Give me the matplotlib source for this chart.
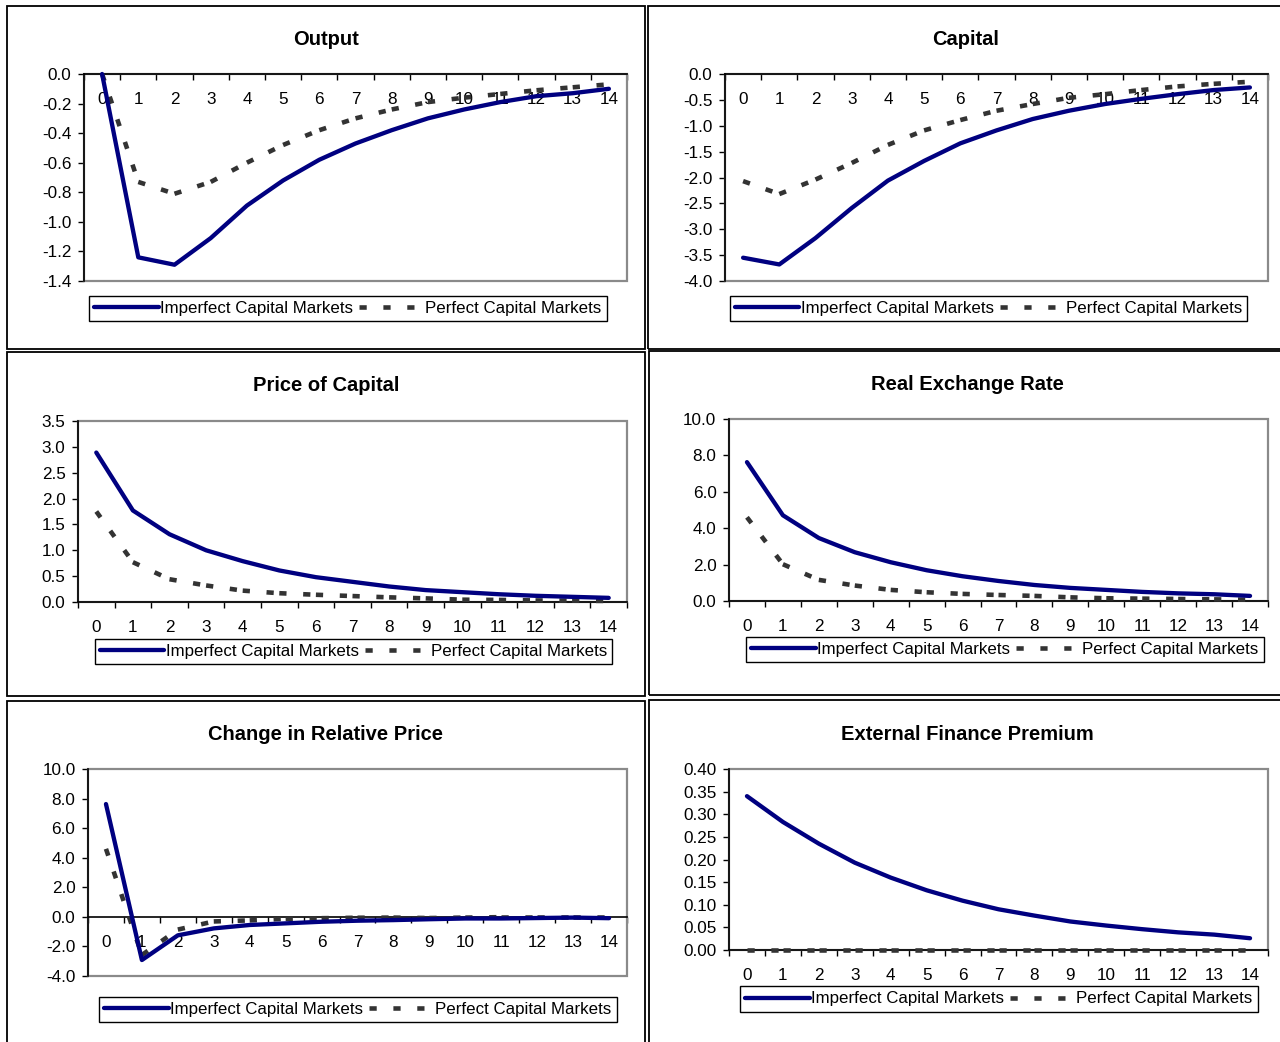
import matplotlib
matplotlib.use("Agg")
import matplotlib.pyplot as plt
from matplotlib.patches import Rectangle
from matplotlib.lines import Line2D
import numpy as np

plt.rcParams['font.family'] = ['Liberation Sans', 'DejaVu Sans']
plt.rcParams['lines.scale_dashes'] = False

# ---------------------------------------------------------------- data
periods = list(range(15))
period_labels = [str(p) for p in periods]
series_names = ["Imperfect Capital Markets", "Perfect Capital Markets"]

output_imperfect = [0.00, -1.24, -1.29, -1.11, -0.89, -0.72, -0.58, -0.47,
                    -0.38, -0.30, -0.24, -0.19, -0.15, -0.13, -0.10]
output_perfect = [0.00, -0.73, -0.81, -0.73, -0.60, -0.48, -0.38, -0.30,
                  -0.24, -0.19, -0.16, -0.135, -0.11, -0.09, -0.07]

capital_imperfect = [-3.55, -3.68, -3.17, -2.59, -2.06, -1.68, -1.34, -1.09,
                     -0.87, -0.71, -0.58, -0.48, -0.39, -0.31, -0.26]
capital_perfect = [-2.07, -2.32, -2.04, -1.72, -1.37, -1.09, -0.89, -0.71,
                   -0.58, -0.46, -0.39, -0.31, -0.24, -0.19, -0.15]

price_imperfect = [2.89, 1.77, 1.31, 1.00, 0.79, 0.61, 0.48, 0.39,
                   0.30, 0.23, 0.19, 0.15, 0.12, 0.10, 0.08]
price_perfect = [1.75, 0.77, 0.44, 0.32, 0.22, 0.17, 0.14, 0.115,
                 0.09, 0.07, 0.045, 0.04, 0.03, 0.025, 0.02]

rer_imperfect = [7.63, 4.71, 3.46, 2.68, 2.13, 1.69, 1.36, 1.10,
                 0.88, 0.72, 0.61, 0.50, 0.42, 0.37, 0.28]
rer_perfect = [4.60, 2.02, 1.16, 0.85, 0.61, 0.48, 0.39, 0.33,
               0.28, 0.20, 0.15, 0.13, 0.11, 0.09, 0.07]

relprice_imperfect = [7.63, -2.92, -1.25, -0.78, -0.55, -0.44, -0.33, -0.26,
                      -0.22, -0.16, -0.11, -0.11, -0.08, -0.05, -0.09]
relprice_perfect = [4.60, -2.58, -0.86, -0.31, -0.24, -0.13, -0.09, -0.06,
                    -0.05, -0.08, -0.05, -0.02, -0.02, -0.02, -0.02]

efp_imperfect = [0.340, 0.283, 0.235, 0.193, 0.160, 0.132, 0.109, 0.090,
                 0.076, 0.063, 0.054, 0.046, 0.039, 0.034, 0.026]
efp_perfect = [0.0] * 15

output_ticks = [-1.4, -1.2, -1.0, -0.8, -0.6, -0.4, -0.2, 0.0]
capital_ticks = [-4.0, -3.5, -3.0, -2.5, -2.0, -1.5, -1.0, -0.5, 0.0]
price_ticks = [0.0, 0.5, 1.0, 1.5, 2.0, 2.5, 3.0, 3.5]
rer_ticks = [0.0, 2.0, 4.0, 6.0, 8.0, 10.0]
relprice_ticks = [-4.0, -2.0, 0.0, 2.0, 4.0, 6.0, 8.0, 10.0]
efp_ticks = [0.00, 0.05, 0.10, 0.15, 0.20, 0.25, 0.30, 0.35, 0.40]

# ---------------------------------------------------------------- layout
W, H = 1280, 1042
NAVY = "#000080"
DARK = "#333333"
FRAME_GRAY = "#8a8a8a"
DASH = (0, (5.2, 12.0))
TICK_FS = 12.3
LEG_FS = 12.2

panels = [
    dict(title="Output", imp=output_imperfect, per=output_perfect,
         ticks=output_ticks, dec=1,
         box=(7, 6, 645, 349), ax=(84, 74, 627, 281),
         title_xy=(326, 39.5), leg_xy=(348, 308.5)),
    dict(title="Capital", imp=capital_imperfect, per=capital_perfect,
         ticks=capital_ticks, dec=1,
         box=(648, 6, 1300, 349), ax=(725, 74, 1268, 281),
         title_xy=(966, 39.5), leg_xy=(988.5, 308.5)),
    dict(title="Price of Capital", imp=price_imperfect, per=price_perfect,
         ticks=price_ticks, dec=1,
         box=(7, 352, 645, 696), ax=(78, 421, 627, 602),
         title_xy=(326, 385.5), leg_xy=(353.5, 651.5)),
    dict(title="Real Exchange Rate", imp=rer_imperfect, per=rer_perfect,
         ticks=rer_ticks, dec=1,
         box=(649, 351, 1300, 695), ax=(729, 419, 1268, 601),
         title_xy=(967, 384.5), leg_xy=(1005, 649.5)),
    dict(title="Change in Relative Price", imp=relprice_imperfect,
         per=relprice_perfect, ticks=relprice_ticks, dec=1,
         box=(7, 701, 645, 1060), ax=(88, 769, 627, 976),
         title_xy=(326, 734.5), leg_xy=(358, 1009.5)),
    dict(title="External Finance Premium", imp=efp_imperfect, per=efp_perfect,
         ticks=efp_ticks, dec=2,
         box=(649, 700, 1300, 1060), ax=(729, 769, 1268, 950),
         title_xy=(967, 734.5), leg_xy=(999, 999)),
]

fig = plt.figure(figsize=(W / 100, H / 100), dpi=100)
fig.patch.set_facecolor("white")


def fx(x):
    return x / W


def fy(y):
    return 1 - y / H


for p in panels:
    bx0, by0, bx1, by1 = p["box"]
    fig.add_artist(Rectangle((fx(bx0), fy(by1)), fx(bx1 - bx0), (by1 - by0) / H,
                             transform=fig.transFigure, fill=False,
                             edgecolor="black", lw=1.3))

    x0, y0, x1, y1 = p["ax"]
    ax = fig.add_axes([fx(x0), fy(y1), fx(x1 - x0), (y1 - y0) / H])
    ax.set_facecolor("white")
    ax.set_xlim(-0.5, 14.5)
    ax.set_ylim(min(p["ticks"]), max(p["ticks"]))

    # plot-area frame in grey, axes in black
    for side in ("top", "right"):
        ax.spines[side].set_visible(False)
    ax.spines["left"].set_color("black")
    ax.spines["left"].set_linewidth(1.2)
    ax.spines["bottom"].set_position(("data", 0))
    ax.spines["bottom"].set_color("black")
    ax.spines["bottom"].set_linewidth(1.2)
    ax.add_patch(Rectangle((0, 0), 1, 1, transform=ax.transAxes, fill=False,
                           edgecolor=FRAME_GRAY, lw=1.6, zorder=1.6,
                           clip_on=False))

    # category axis: labels at centres, tick marks between categories
    ax.set_xticks(periods)
    ax.set_xticklabels(period_labels, fontsize=TICK_FS)
    ax.set_xticks(np.arange(-0.5, 15, 1), minor=True)
    ax.tick_params(axis="x", which="major", length=0, pad=13)
    ax.tick_params(axis="x", which="minor", length=4, width=1,
                   direction="out", color="black")

    fmt = "%.{}f".format(p["dec"])
    ax.set_yticks(p["ticks"])
    ax.set_yticklabels([fmt % t for t in p["ticks"]], fontsize=TICK_FS)
    ax.tick_params(axis="y", length=4, width=1, direction="out", pad=5)

    # dashed series: dash pattern restarts at every data point
    for i in range(len(periods) - 1):
        ax.plot(periods[i:i + 2], p["per"][i:i + 2], color=DARK, lw=3.3,
                linestyle=DASH, dash_capstyle="butt", zorder=3,
                clip_on=False)
    ax.plot(periods, p["imp"], color=NAVY, lw=3.1, solid_capstyle="round",
            solid_joinstyle="round", zorder=4, clip_on=False)

    fig.text(fx(p["title_xy"][0]), fy(p["title_xy"][1]), p["title"],
             ha="center", va="center", fontsize=14.5, fontweight="bold")

    handles = [
        Line2D([], [], color=NAVY, lw=3.1, solid_capstyle="round"),
        Line2D([], [], color=DARK, lw=3.3, linestyle=DASH,
               dash_capstyle="butt"),
    ]
    leg = fig.legend(handles, series_names, loc="center",
                     bbox_to_anchor=(fx(p["leg_xy"][0]), fy(p["leg_xy"][1])),
                     ncol=2, fontsize=LEG_FS, frameon=True, fancybox=False,
                     shadow=False, handlelength=3.8, handletextpad=0.1,
                     columnspacing=0.35, borderpad=0.3, borderaxespad=0)
    frame = leg.get_frame()
    frame.set_edgecolor("black")
    frame.set_linewidth(1.0)
    frame.set_alpha(1)

fig.savefig("out.png", dpi=100, facecolor="white")
